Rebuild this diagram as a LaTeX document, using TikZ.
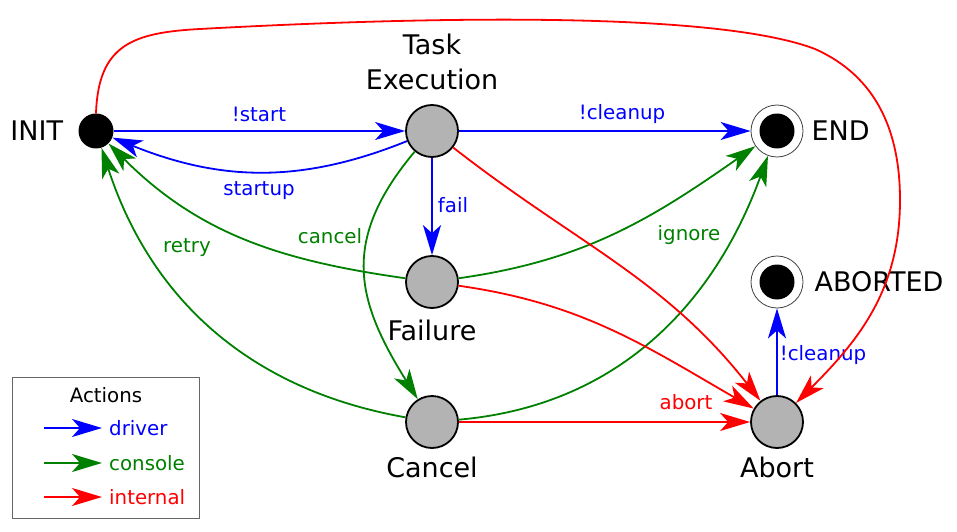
\documentclass[tikz,border=0pt]{standalone}
\usepackage{fontspec}
\setmainfont{DejaVu Sans}
\usetikzlibrary{arrows.meta,positioning}
\definecolor{drvblue}{RGB}{0,0,255}
\definecolor{congreen}{RGB}{0,128,0}
\definecolor{intred}{RGB}{255,0,0}
\definecolor{stategray}{RGB}{179,179,179}
\tikzset{
  state/.style={circle, draw=black, line width=1.8pt, fill=stategray, minimum size=52pt, inner sep=0pt},
  initstate/.style={circle, fill=black, minimum size=35pt, inner sep=0pt},
  finalstate/.style={circle, draw=black!75, line width=0.8pt, minimum size=52pt, inner sep=0pt,
    path picture={\fill[black] (path picture bounding box.center) circle (17.5pt);}},
  statename/.style={inner sep=0pt, font=\fontsize{27}{35}\selectfont},
  arrowhd/.style={-{Stealth[length=30pt,width=18pt,inset=8pt]}},
  driveredge/.style={arrowhd, draw=drvblue, line width=1.8pt},
  consoleedge/.style={arrowhd, draw=congreen, line width=1.8pt},
  internaledge/.style={arrowhd, draw=intred, line width=1.8pt},
  edgelbl/.style={inner sep=0pt, font=\fontsize{19.8}{23}\selectfont},
  driverlbl/.style={edgelbl, text=drvblue},
  consolelbl/.style={edgelbl, text=congreen},
  internallbl/.style={edgelbl, text=intred}
}
\begin{document}
\begin{tikzpicture}[x=1pt,y=1pt]
  \useasboundingbox (0,0) rectangle (957,531);
  % states
  \node[initstate] (init) at (96,400) {};
  \node[state] (task) at (432,400) {};
  \node[finalstate] (end) at (777,400) {};
  \node[state] (failure) at (432,249) {};
  \node[finalstate] (aborted) at (777,249) {};
  \node[state] (cancel) at (432,109) {};
  \node[state] (abort) at (777,109) {};
  % state names
  \node[statename, left=15pt of init] (initname) {INIT};
  \node[statename, align=center, above=14pt of task] (taskname) {Task\\Execution};
  \node[statename, right=8pt of end] (endname) {END};
  \node[statename, below=11pt of failure] (failurename) {Failure};
  \node[statename, right=11pt of aborted] (abortedname) {ABORTED};
  \node[statename, below=8pt of cancel] (cancelname) {Cancel};
  \node[statename, below=8pt of abort] (abortname) {Abort};
  % driver actions
  \draw[driveredge] (init) -- (task);
  \draw[driveredge] (task) to[out=202,in=-22] (init);
  \draw[driveredge] (task) -- (end);
  \draw[driveredge] (task) -- (failure);
  \draw[driveredge] (abort) -- (aborted);
  \node[driverlbl] (lblstart) at (259,416.5) {!start};
  \node[driverlbl] (lblstartup) at (259,340) {startup};
  \node[driverlbl] (lblcleanup) at (622,416.5) {!cleanup};
  \node[driverlbl] (lblfail) at (453,325.5) {fail};
  \node[driverlbl] (lblcleanab) at (823,175.5) {!cleanup};
  % console actions
  \draw[consoleedge] (task) to[out=-130,in=122,looseness=1.2] (cancel);
  \draw[consoleedge] (failure) to[out=172,in=-45] (init);
  \draw[consoleedge] (cancel) to[out=170,in=-72] (init);
  \draw[consoleedge] (failure) to[out=8,in=-145] (end);
  \draw[consoleedge] (cancel) to[out=5,in=-110] (end);
  \node[consolelbl] (lblcancel) at (330,295) {cancel};
  \node[consolelbl] (lblretry) at (187,283) {retry};
  \node[consolelbl] (lblignore) at (689,295.5) {ignore};
  % internal actions
  \coordinate (redtopl) at (200,502);
  \coordinate (redtopr) at (815,482);
  \coordinate (redside) at (900,331);
  \draw[internaledge] (init.north) to[out=88,in=183,looseness=1.3] (redtopl)
    .. controls (400,513) and (710,522) .. (redtopr)
    to[out=-24,in=90] (redside) to[out=-90,in=45] (abort);
  \draw[internaledge] (task) to[out=-38,in=128] (abort);
  \draw[internaledge] (failure) to[out=-8,in=150] (abort);
  \draw[internaledge] (cancel) -- (abort);
  \node[internallbl] (lblabort) at (686,128.5) {abort};
  % legend
  \draw[black!60, line width=0.8pt] (12.5,12.5) rectangle (199,154);
  \node[edgelbl] (legtitle) at (106,135.5) {Actions};
  \coordinate (legdrva) at (44,103);
  \coordinate (legdrvb) at (102,103);
  \coordinate (legcona) at (44,68);
  \coordinate (legconb) at (102,68);
  \coordinate (leginta) at (44,34);
  \coordinate (legintb) at (102,34);
  \draw[driveredge] (legdrva) -- (legdrvb);
  \draw[consoleedge] (legcona) -- (legconb);
  \draw[internaledge] (leginta) -- (legintb);
  \node[driverlbl, right=7pt of legdrvb] (legdrv) {driver};
  \node[consolelbl, right=7pt of legconb] (legcon) {console};
  \node[internallbl, right=7pt of legintb] (legint) {internal};
\end{tikzpicture}
\end{document}
